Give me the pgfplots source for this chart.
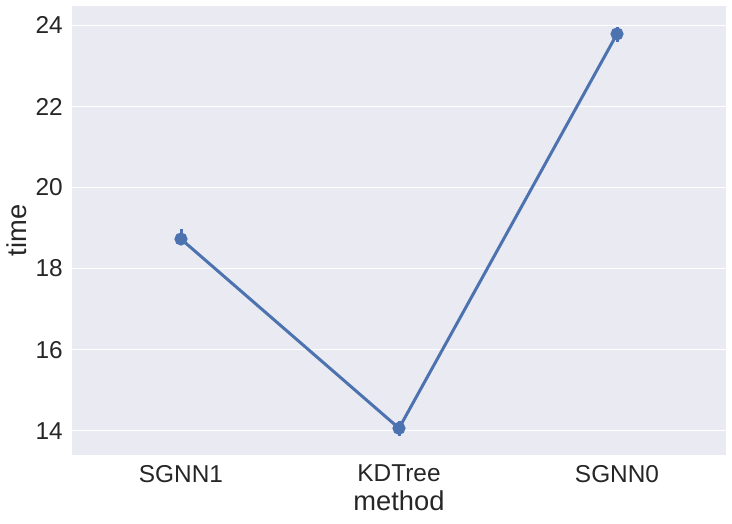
\documentclass[border=0pt]{standalone}
\usepackage{fontspec}
\setmainfont{Liberation Sans}
\usepackage{pgfplots}
\pgfplotsset{compat=1.18}

\definecolor{bgdark}{HTML}{EAEAF2}
\definecolor{sbblue}{HTML}{4C72B0}
\definecolor{txt}{HTML}{262626}

\begin{document}
\begin{tikzpicture}
\begin{axis}[
    scale only axis,
    width=654pt, height=449pt,
    xmin=-0.5, xmax=2.5,
    ymin=13.40, ymax=24.48,
    xtick={0,1,2},
    xticklabels={SGNN1,KDTree,SGNN0},
    ytick={14,16,18,20,22,24},
    /pgf/number format/assume math mode=true,
    axis background/.style={fill=bgdark},
    axis line style={draw=none},
    major tick length=0pt,
    ymajorgrids,
    major grid style={white, line width=1.2pt},
    ticklabel style={font=\fontsize{24.4}{29}\selectfont, text=txt},
    yticklabel style={inner sep=0pt, xshift=-9pt},
    xticklabel style={inner sep=0pt, yshift=-10pt},
    xlabel={method},
    ylabel={time},
    label style={font=\fontsize{27.3}{32}\selectfont, text=txt},
    xlabel style={at={(axis description cs:0.5,0)}, anchor=base, yshift=-55pt},
    ylabel style={at={(axis description cs:0,0.5)}, anchor=south, yshift=45pt, inner sep=0pt},
]
\coordinate (ll) at (rel axis cs:0,0);
\coordinate (ur) at (rel axis cs:1,1);
\addplot[sbblue, line width=3pt, mark=*, mark size=5pt,
    error bars/.cd, y dir=both, y explicit, error mark=none,
    error bar style={line width=3pt, sbblue}]
    coordinates {
    (0,18.73) += (0,0.25) -= (0,0.16)
    (1,14.06) += (0,0.18) -= (0,0.19)
    (2,23.79) += (0,0.17) -= (0,0.20)
    };
\end{axis}
\path ([shift={(-72pt,-68pt)}]ll) rectangle ([shift={(6pt,6pt)}]ur);
\end{tikzpicture}
\end{document}
